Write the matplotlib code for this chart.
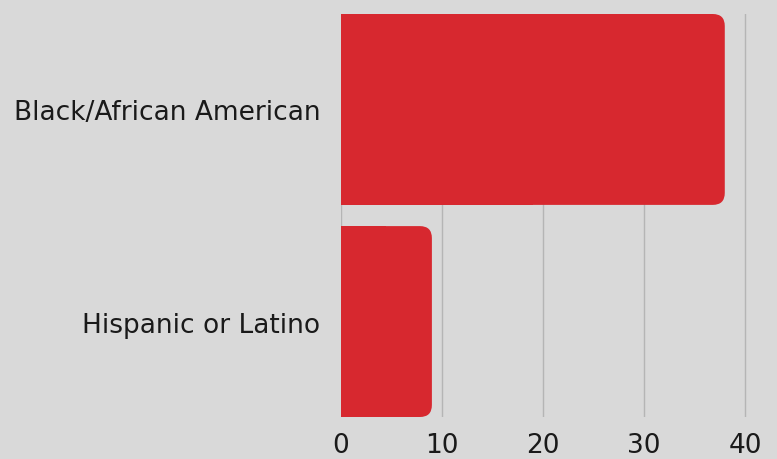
import matplotlib.pyplot as plt
from matplotlib.patches import FancyBboxPatch, Rectangle

categories = ["Black/African American", "Hispanic or Latino"]
values = [38, 9]
xticks = [0, 10, 20, 30, 40]

bg = "#d9d9d9"
red = "#d7282f"

plt.rcParams['font.family'] = ['DejaVu Sans']

fig = plt.figure(figsize=(7.77, 4.6), dpi=100, facecolor=bg)
ax = fig.add_axes([341 / 777, 1 - 418 / 460, 406 / 777, 403 / 460], facecolor=bg)

bars = ax.barh(categories, values, height=0.9, color=red)
ax.invert_yaxis()
ax.set_xlim(0, 40.2)
ax.set_ylim(1.45, -0.45)

# rounded right end: px -> data units
px_x = 40.2 / 406
px_y = 1.9 / 403
r = 12 * px_x
for b in bars:
    x, y, w, h = b.get_x(), b.get_y(), b.get_width(), b.get_height()
    b.set_visible(False)
    ax.add_patch(FancyBboxPatch((x, y), w, h, boxstyle=f"round,pad=0,rounding_size={r}",
                                mutation_aspect=px_y / px_x, fc=red, ec="none", zorder=3))
    ax.add_patch(Rectangle((x, y), w / 2, h, fc=red, ec="none", zorder=3))

ax.set_xticks(xticks)
ax.grid(axis="x", color="#b5b5b5", linewidth=1)
ax.set_axisbelow(True)
for s in ax.spines.values():
    s.set_visible(False)
ax.tick_params(axis="both", length=0, labelsize=19, labelcolor="#1a1a1a")
ax.tick_params(axis="y", pad=15)
ax.tick_params(axis="x", pad=11)

fig.savefig("out.png", dpi=100, facecolor=bg)
